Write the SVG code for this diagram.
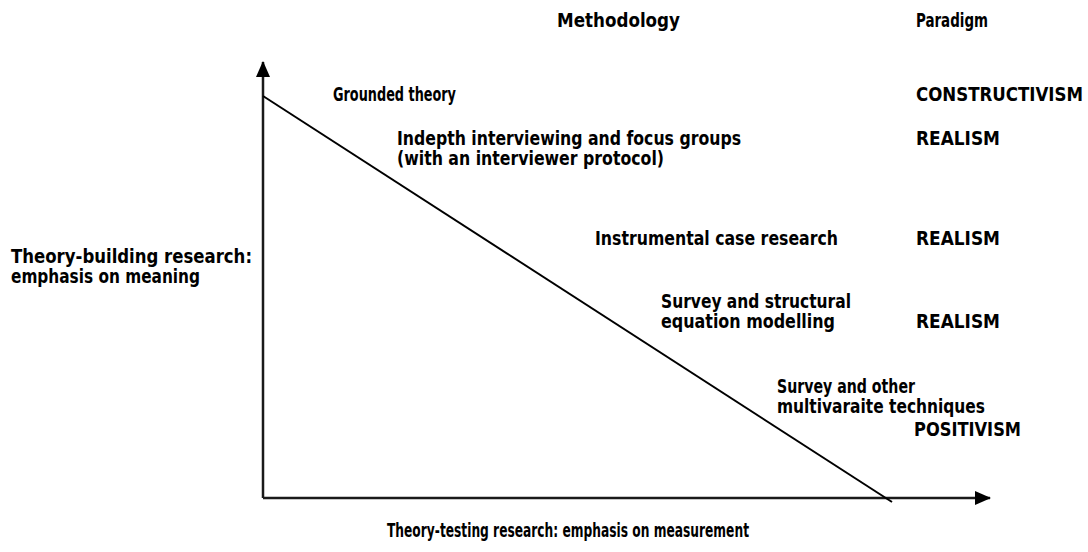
<svg xmlns="http://www.w3.org/2000/svg" width="1088" height="552" viewBox="0 0 1088 552">
  <style>
    text { font-family: "DejaVu Sans Condensed", "Liberation Sans", Arial, sans-serif; font-weight: bold; font-size: 19px; fill: #000; }
    .axis { stroke: #1a1a1a; stroke-width: 2.5; fill: none; }
    .diag { stroke: #000; stroke-width: 2; fill: none; }
  </style>
  <defs>
    <marker id="arrow" viewBox="0 0 16 14" refX="15" refY="7" markerWidth="16" markerHeight="14" markerUnits="userSpaceOnUse" orient="auto">
      <path d="M0,0 L16,7 L0,14 Z" fill="#000"/>
    </marker>
  </defs>
  <rect width="1088" height="552" fill="#fff"/>

  <g id="connectors">
    <path class="axis" d="M263,498 L263,62" marker-end="url(#arrow)"/>
    <path class="axis" d="M263,498 L990,498" marker-end="url(#arrow)"/>
    <path class="diag" d="M263,96 L892,502"/>
  </g>

  <g id="header-methodology"><text x="557" y="27" textLength="123" lengthAdjust="spacingAndGlyphs">Methodology</text></g>
  <g id="header-paradigm"><text x="916" y="27" textLength="72" lengthAdjust="spacingAndGlyphs">Paradigm</text></g>

  <g id="y-axis-label">
    <text x="11" y="263" textLength="241" lengthAdjust="spacingAndGlyphs">Theory-building research:</text>
    <text x="11" y="283" textLength="189" lengthAdjust="spacingAndGlyphs">emphasis on meaning</text>
  </g>
  <g id="x-axis-label">
    <text x="387" y="537" textLength="362" lengthAdjust="spacingAndGlyphs">Theory-testing research: emphasis on measurement</text>
  </g>

  <g id="m-grounded"><text x="333" y="101" textLength="123" lengthAdjust="spacingAndGlyphs">Grounded theory</text></g>
  <g id="p-constructivism"><text x="916" y="101" textLength="167" lengthAdjust="spacingAndGlyphs">CONSTRUCTIVISM</text></g>

  <g id="m-indepth">
    <text x="397" y="145" textLength="344" lengthAdjust="spacingAndGlyphs">Indepth interviewing and focus groups</text>
    <text x="397" y="165" textLength="267" lengthAdjust="spacingAndGlyphs">(with an interviewer protocol)</text>
  </g>
  <g id="p-realism-1"><text x="916" y="145" textLength="84" lengthAdjust="spacingAndGlyphs">REALISM</text></g>

  <g id="m-instrumental"><text x="595" y="245" textLength="243" lengthAdjust="spacingAndGlyphs">Instrumental case research</text></g>
  <g id="p-realism-2"><text x="916" y="245" textLength="84" lengthAdjust="spacingAndGlyphs">REALISM</text></g>

  <g id="m-sem">
    <text x="661" y="308" textLength="190" lengthAdjust="spacingAndGlyphs">Survey and structural</text>
    <text x="661" y="328" textLength="174" lengthAdjust="spacingAndGlyphs">equation modelling</text>
  </g>
  <g id="p-realism-3"><text x="916" y="328" textLength="84" lengthAdjust="spacingAndGlyphs">REALISM</text></g>

  <g id="m-multivariate">
    <text x="777" y="393" textLength="138" lengthAdjust="spacingAndGlyphs">Survey and other</text>
    <text x="777" y="413" textLength="208" lengthAdjust="spacingAndGlyphs">multivaraite techniques</text>
  </g>
  <g id="p-positivism"><text x="914" y="436" textLength="107" lengthAdjust="spacingAndGlyphs">POSITIVISM</text></g>
</svg>
